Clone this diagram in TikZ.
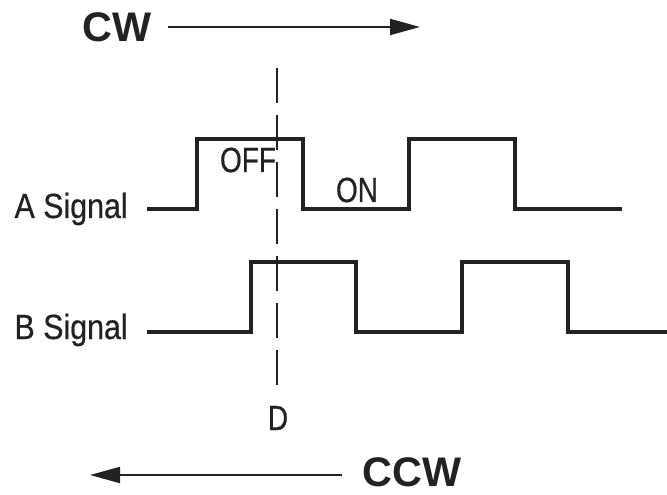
\documentclass[tikz,border=0pt]{standalone}
\usepackage{fontspec}
\setmainfont{Liberation Sans}
\newfontfamily\condfont[FakeStretch=0.8,FakeBold=0.5]{Liberation Sans}
\newfontfamily\sigfont[FakeStretch=0.87,FakeBold=0.5]{Liberation Sans}
\usetikzlibrary{arrows.meta}
\definecolor{ink}{HTML}{222222}
\begin{document}
\begin{tikzpicture}[x=0.75pt,y=-0.75pt,
  lbl/.style={inner sep=0pt,font=\condfont\fontsize{26.2pt}{28pt}\selectfont,text=ink},
  siglbl/.style={inner sep=0pt,font=\sigfont\fontsize{26.2pt}{28pt}\selectfont,text=ink},
  dirlbl/.style={inner sep=0pt,font=\bfseries\fontsize{31pt}{33pt}\selectfont,text=ink},
  wave/.style={draw=ink,line width=3pt,line join=miter},
  dirarrow/.style={draw=ink,line width=1.5pt,-{Triangle[length=22.5pt,width=12pt]}},
  marker/.style={draw=ink,line width=1.6pt,dash pattern=on 26.25pt off 9pt}]
\useasboundingbox[fill=white] (0,0) rectangle (667,495);
% direction labels and arrows
\node[dirlbl,anchor=base] (cw) at (117,42) {CW};
\coordinate (cwS) at (168,27);
\coordinate (cwE) at (420,27);
\draw[dirarrow] (cwS) -- (cwE);
\node[dirlbl,anchor=base] (ccw) at (412,486) {CCW};
\coordinate (ccwS) at (342,475);
\coordinate (ccwE) at (90,475);
\draw[dirarrow] (ccwS) -- (ccwE);
% signal labels
\node[siglbl,anchor=base east] (la) at (128,218) {A Signal};
\node[siglbl,anchor=base east] (lb) at (128,339) {B Signal};
\node[lbl,anchor=base] (off) at (248,172) {OFF};
\node[lbl,anchor=base] (on) at (357,202) {ON};
\node[lbl,anchor=base] (d) at (278,430) {D};
% dashed marker line
\coordinate (dTop) at (277,68);
\coordinate (dBot) at (277,386);
\draw[marker] (dTop) -- (dBot);
% A waveform
\draw[wave] (147,209) -- (197,209) -- (197,139) -- (303,139) -- (303,209)
  -- (409,209) -- (409,139) -- (515,139) -- (515,209) -- (622,209);
% B waveform
\draw[wave] (147,332) -- (251,332) -- (251,262) -- (356,262) -- (356,332)
  -- (462,332) -- (462,262) -- (568,262) -- (568,332) -- (667,332);
\end{tikzpicture}
\end{document}
